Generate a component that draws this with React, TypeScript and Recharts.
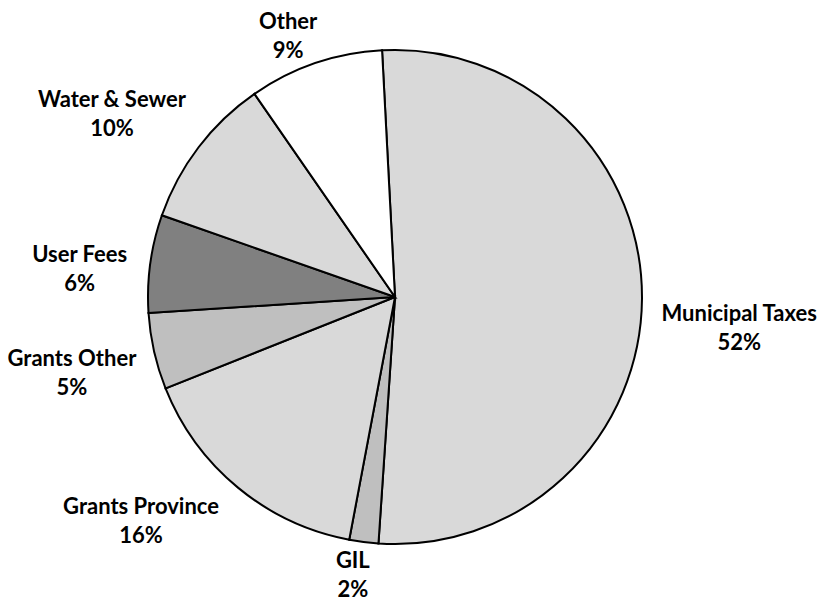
import React from "react";
import { PieChart, Pie, Cell } from "recharts";

const categories = [
  "Municipal Taxes",
  "GIL",
  "Grants Province",
  "Grants Other",
  "User Fees",
  "Water & Sewer",
  "Other",
];
const values = [51.9, 1.9, 16.0, 5.0, 6.4, 10.0, 8.8];
const colors = ["#d9d9d9", "#bfbfbf", "#d9d9d9", "#bfbfbf", "#808080", "#d9d9d9", "#ffffff"];

// small label placement tweaks (best-fit style), in px, per category order
const labelNudgeX = [3, -5, -41, 1, -4, -13, -10];
const labelNudgeY = [27, -15, -36, 2, 14, 22, 2];

const data = categories.map((name, i) => ({ name, value: values[i], idx: i }));

const FONT_SIZE = 22;
const FONT_FAMILY = "Lato, 'Open Sans', sans-serif";
const LINE = 29;

let ctx: CanvasRenderingContext2D | null = null;
function measure(text: string): number {
  if (!ctx) {
    const c = document.createElement("canvas");
    ctx = c.getContext("2d");
  }
  if (!ctx) return text.length * FONT_SIZE * 0.55;
  ctx.font = `bold ${FONT_SIZE}px Lato`;
  return ctx.measureText(text).width;
}

const RAD = Math.PI / 180;

const renderLabel = (props: any) => {
  const { cx, cy, midAngle, outerRadius, percent, name, index } = props;
  const pct = `${Math.round(percent * 100)}%`;
  const w = Math.max(measure(name), measure(pct));
  const h = LINE * 2;
  const cos = Math.cos(-midAngle * RAD);
  const sin = Math.sin(-midAngle * RAD);
  const gap = 16;
  const ext = (w / 2) * Math.abs(cos) + (h / 2) * Math.abs(sin);
  const d = outerRadius + gap + ext;
  let x = cx + d * cos;
  let y = cy + d * sin;
  if (y - h / 2 < 4) y = 4 + h / 2;
  x += labelNudgeX[index] ?? 0;
  y += labelNudgeY[index] ?? 0;
  return (
    <text
      x={x}
      y={y}
      textAnchor="middle"
      fill="#000"
      style={{ fontFamily: FONT_FAMILY, fontSize: FONT_SIZE, fontWeight: 700 }}
    >
      <tspan x={x} y={y - LINE / 2} dominantBaseline="central">
        {name}
      </tspan>
      <tspan x={x} y={y + LINE / 2} dominantBaseline="central">
        {pct}
      </tspan>
    </text>
  );
};

export default function App() {
  return (
    <div style={{ position: "absolute", left: 0, top: 0, width: 821, height: 605, background: "#fff" }}>
      <PieChart width={821} height={605} margin={{ top: 0, right: 0, bottom: 0, left: 0 }}>
        <Pie
          data={data}
          dataKey="value"
          nameKey="name"
          cx={395}
          cy={297}
          outerRadius={247}
          startAngle={93}
          endAngle={-267}
          stroke="#000"
          strokeWidth={2}
          label={renderLabel}
          labelLine={false}
          isAnimationActive={false}
        >
          {data.map((d, i) => (
            <Cell key={d.name} fill={colors[i]} />
          ))}
        </Pie>
      </PieChart>
    </div>
  );
}
